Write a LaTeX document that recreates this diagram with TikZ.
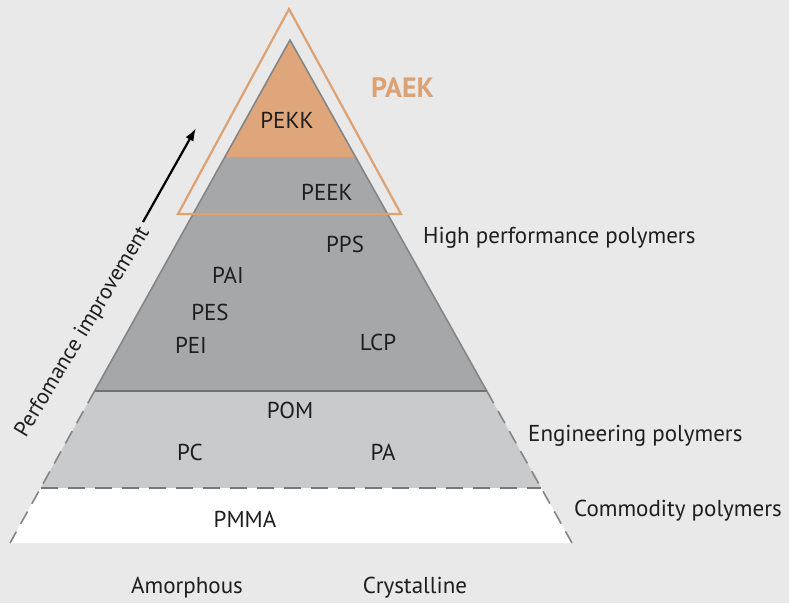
\documentclass[tikz,border=0pt]{standalone}
\usepackage{fontspec}
\usetikzlibrary{arrows.meta}
\setmainfont{PT Sans}
\definecolor{bgc}{HTML}{E9E9E9}
\definecolor{peach}{HTML}{DFA67B}
\definecolor{dgray}{HTML}{A6A7A9}
\definecolor{lgray}{HTML}{C9CACB}
\definecolor{edge}{HTML}{858585}
\definecolor{paek}{HTML}{DCA274}
\definecolor{txt}{HTML}{1E1E1E}
\begin{document}
\begin{tikzpicture}[x=1pt,y=-1pt,
  lab/.style={font=\fontsize{23}{26}\selectfont, text=txt, inner sep=0pt},
  side/.style={font=\fontsize{23}{26}\selectfont, text=txt, inner sep=0pt, anchor=west},
  solidedge/.style={draw=edge, line width=1.6pt},
  dashedge/.style={draw=edge, line width=1.6pt, dash pattern=on 14pt off 9pt},
  hdash/.style={draw=edge!90!black, line width=2.6pt, dash pattern=on 17pt off 10pt}]
\fill[bgc] (0,0) rectangle (789,603);
\useasboundingbox (0,0) rectangle (789,603);
% pyramid corner coordinates
\coordinate (A) at (290,40);
\coordinate (aL) at (224.9,157);  \coordinate (aR) at (355.6,157);
\coordinate (bL) at (94.6,391);   \coordinate (bR) at (486.8,391);
\coordinate (cL) at (40.6,488);   \coordinate (cR) at (541.2,488);
\coordinate (dL) at (10,543);     \coordinate (dR) at (572,543);
% fills
\fill[peach] (A) -- (aR) -- (aL) -- cycle;
\fill[dgray] (aL) -- (aR) -- (bR) -- (bL) -- cycle;
\fill[lgray] (bL) -- (bR) -- (cR) -- (cL) -- cycle;
\fill[white] (cL) -- (cR) -- (dR) -- (dL) -- cycle;
% edges
\draw[solidedge] (bL) -- (A) -- (bR);
\draw[draw=edge!85!black, line width=2pt] (bL) -- (bR);
\draw[dashedge] (bL) -- (dL);
\draw[dashedge] (bR) -- (dR);
\draw[hdash] (cL) -- (cR);
% PAEK outline
\coordinate (oT) at (289,9);
\coordinate (oL) at (178,214);
\coordinate (oR) at (401,214);
\draw[paek, line width=2.2pt, line join=miter] (oT) -- (oR) -- (oL) -- cycle;
\node[anchor=west, inner sep=0pt, text=paek, font=\fontsize{28}{30}\selectfont\bfseries] (paekl) at (371,88) {PAEK};
% labels inside
\node[lab] (pekk) at (287,120) {PEKK};
\node[lab] (peek) at (327,192) {PEEK};
\node[lab] (pps) at (345,244) {PPS};
\node[lab] (pai) at (228,275) {PAI};
\node[lab] (pes) at (210,312) {PES};
\node[lab] (pei) at (191,345) {PEI};
\node[lab] (lcp) at (378,342) {LCP};
\node[lab] (pom) at (290,410) {POM};
\node[lab] (pc) at (190,452) {PC};
\node[lab] (pa) at (383,452) {PA};
\node[lab] (pmma) at (245,519) {PMMA};
% side labels
\node[side] (hp) at (423,238) {High performance polymers};
\node[side] (eng) at (528,436) {Engineering polymers};
\node[side] (com) at (574,511) {Commodity polymers};
\node[lab] (amo) at (187,588) {Amorphous};
\node[lab] (cry) at (415,588) {Crystalline};
% performance arrow
\node[lab, font=\fontsize{22}{24}\selectfont, rotate=59] (perf) at (83,332) {Perfomance improvement};
\coordinate (arS) at (143,222);
\coordinate (arE) at (196,128);
\draw[line width=2.2pt, -{Latex[length=13pt,width=9pt]}] (arS) -- (arE);
\end{tikzpicture}
\end{document}
